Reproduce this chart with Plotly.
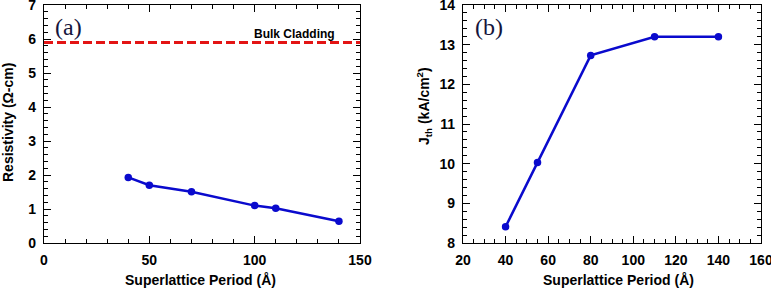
import plotly.graph_objects as go

# Panel (a)
period_a = [40, 50, 70, 100, 110, 140]
resistivity = [1.93, 1.70, 1.51, 1.10, 1.02, 0.64]
bulk_x = [0, 150]
bulk_resistivity = [5.9, 5.9]

# Panel (b)
period_b = [40, 55, 80, 110, 140]
jth = [8.41, 10.03, 12.73, 13.20, 13.20]

W, H = 771, 288
BLUE = "#0a0acd"
tickfont = dict(family="Liberation Sans, Arial", size=14, color="black", weight="bold")

fig = go.Figure()
fig.add_trace(go.Scatter(x=bulk_x, y=bulk_resistivity, mode="lines",
                         line=dict(color="#e31414", width=3, dash="9px,4px"),
                         xaxis="x", yaxis="y", showlegend=False))
fig.add_trace(go.Scatter(x=period_a, y=resistivity, mode="lines+markers",
                         line=dict(color=BLUE, width=2.5),
                         marker=dict(color=BLUE, size=7.5),
                         xaxis="x", yaxis="y", showlegend=False))
fig.add_trace(go.Scatter(x=period_b, y=jth, mode="lines+markers",
                         line=dict(color=BLUE, width=2.5),
                         marker=dict(color=BLUE, size=7.5),
                         xaxis="x2", yaxis="y2", showlegend=False))

ydom = [(H - 243) / H, (H - 5) / H]

def ax(**kw):
    d = dict(showline=True, linecolor="black", linewidth=1.3, mirror="allticks",
             ticks="inside", ticklen=7, tickwidth=1.2, tickcolor="black",
             showgrid=False, zeroline=False, tickfont=tickfont,
             ticklabelstandoff=4, automargin=False, ticklabeloverflow="allow")
    d.update(kw)
    return d

fig.update_layout(
    width=W, height=H, margin=dict(l=0, r=0, t=0, b=0, autoexpand=False),
    plot_bgcolor="white", paper_bgcolor="white",
    xaxis=ax(domain=[44 / W, 360 / W], range=[0, 150], dtick=50, anchor="y",
             minor=dict(dtick=10, ticks="inside", ticklen=4, tickcolor="black", tickwidth=1)),
    yaxis=ax(domain=ydom, range=[0, 7], dtick=1, anchor="x",
             minor=dict(dtick=0.2, ticks="inside", ticklen=4, tickcolor="black", tickwidth=1)),
    xaxis2=ax(domain=[463 / W, 761 / W], range=[20, 160], dtick=20, anchor="y2",
              minor=dict(dtick=5, ticks="inside", ticklen=4, tickcolor="black", tickwidth=1)),
    yaxis2=ax(domain=ydom, range=[8, 14], dtick=1, anchor="x2",
              minor=dict(dtick=0.2, ticks="inside", ticklen=4, tickcolor="black", tickwidth=1)),
)

titlefont = dict(family="Liberation Sans, Arial", size=14, color="black", weight="bold")
ann = [
    dict(text="Superlattice Period (Å)", x=200 / W, y=1 - 280 / H, xref="paper", yref="paper",
         showarrow=False, font=titlefont, xanchor="center", yanchor="middle"),
    dict(text="Superlattice Period (Å)", x=618 / W, y=1 - 280 / H, xref="paper", yref="paper",
         showarrow=False, font=titlefont, xanchor="center", yanchor="middle"),
    dict(text="Resistivity (Ω-cm)", x=8 / W, y=1 - 123 / H, xref="paper", yref="paper",
         showarrow=False, font=titlefont, textangle=-90, xanchor="center", yanchor="middle"),
    dict(text="J<sub>th</sub> (kA/cm<sup>2</sup>)", x=424 / W, y=1 - 106 / H, xref="paper", yref="paper",
         showarrow=False, font=titlefont, textangle=-90, xanchor="center", yanchor="middle"),
    dict(text="(a)", x=68 / W, y=1 - 27 / H, xref="paper", yref="paper",
         showarrow=False, font=dict(family="Liberation Serif, Times New Roman", size=24, color="#14143c"),
         xanchor="center", yanchor="middle"),
    dict(text="(b)", x=489 / W, y=1 - 27 / H, xref="paper", yref="paper",
         showarrow=False, font=dict(family="Liberation Serif, Times New Roman", size=24, color="#14143c"),
         xanchor="center", yanchor="middle"),
    dict(text="Bulk Cladding", x=294 / W, y=1 - 34 / H, xref="paper", yref="paper",
         showarrow=False, font=dict(family="Liberation Sans, Arial", size=12, color="black", weight="bold"),
         xanchor="center", yanchor="middle"),
]
fig.update_layout(annotations=ann)

fig.write_html("out.html", config={"displayModeBar": False},
               post_script="document.body.style.margin='0';document.body.style.overflow='hidden';")
